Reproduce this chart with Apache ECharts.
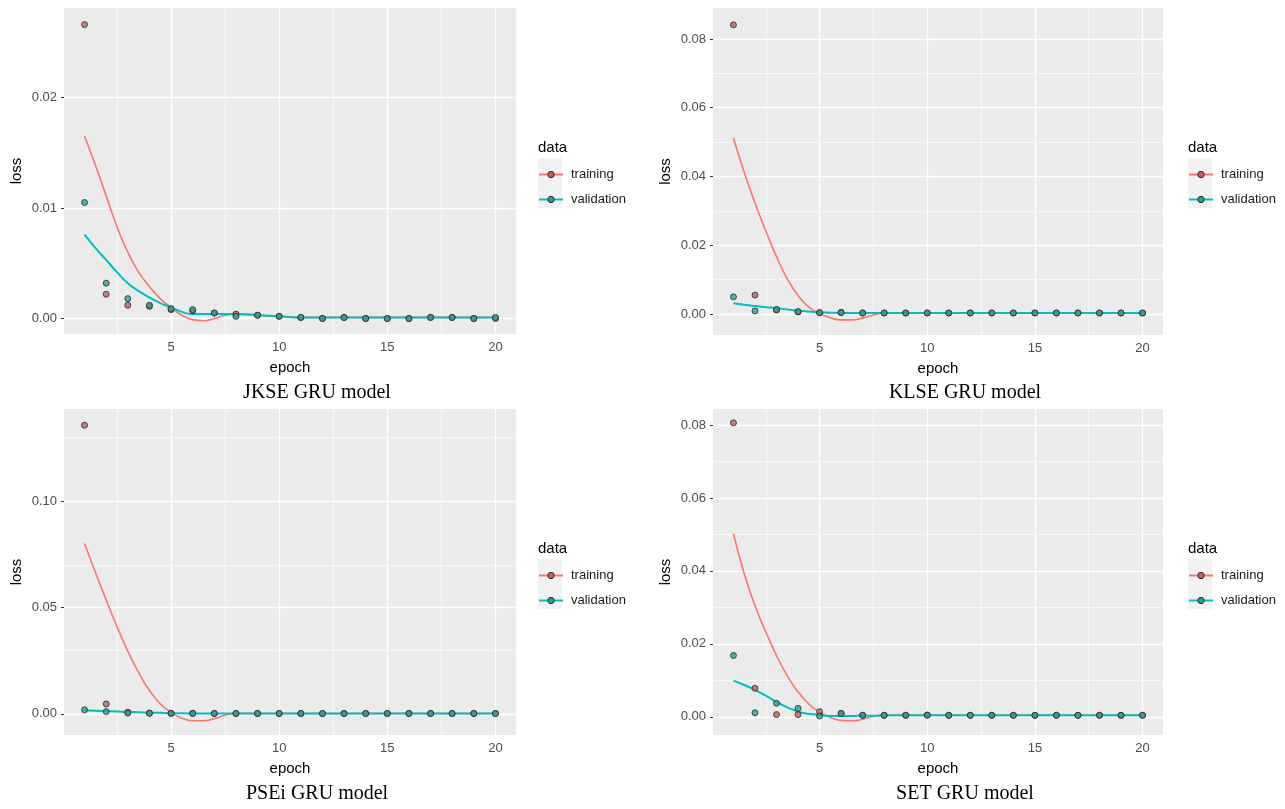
<!DOCTYPE html>
<html>
<head>
<meta charset="utf-8">
<title>GRU model loss</title>
<script src="https://cdn.jsdelivr.net/npm/echarts@6/dist/echarts.min.js"></script>
<style>
html, body { margin: 0; padding: 0; background: #fff; }
#chart { width: 1285px; height: 809px; }
</style>
</head>
<body>
<div id="chart"></div>
<script>
const epochs = [1, 2, 3, 4, 5, 6, 7, 8, 9, 10, 11, 12, 13, 14, 15, 16, 17, 18, 19, 20];
const fitEpochs = [1, 1.5, 2, 2.5, 3, 3.5, 4, 4.5, 5, 5.5, 6, 6.5, 7, 7.5, 8, 9, 10, 11, 12, 13, 14, 15, 16, 17, 18, 19, 20];

// tick labels / grid breaks
const xMajor = [5, 10, 15, 20];
const xMinor = [2.5, 7.5, 12.5, 17.5];
const jkseMajor = [0, 0.01, 0.02];
const jkseMinor = [0.005, 0.015, 0.025];
const klseMajor = [0, 0.02, 0.04, 0.06, 0.08];
const klseMinor = [0.01, 0.03, 0.05, 0.07];
const pseiMajor = [0, 0.05, 0.10];
const pseiMinor = [0.025, 0.075, 0.125];
const setMajor = [0, 0.02, 0.04, 0.06, 0.08];
const setMinor = [0.01, 0.03, 0.05, 0.07];

// JKSE
const jkseTrain = [0.0266, 0.0022, 0.0012, 0.0011, 0.0008, 0.0007, 0.0005, 0.0004, 0.0003, 0.0002, 0.0001, 0.0000, 0.0001, 0.0000, 0.0000, 0.0000, 0.0001, 0.0001, 0.0000, 0.0000];
const jkseVal = [0.0105, 0.0032, 0.0018, 0.0012, 0.0009, 0.0008, 0.0005, 0.0002, 0.0003, 0.0002, 0.0001, 0.0000, 0.0001, 0.0000, 0.0000, 0.0000, 0.0001, 0.0001, 0.0000, 0.0001];
const jkseTrainFit = [0.0165, 0.0139, 0.0111, 0.0083, 0.0060, 0.0042, 0.0029, 0.0018, 0.0010, 0.0003, -0.0001, -0.0002, 0.0000, 0.0003, 0.0004, 0.0003, 0.0002, 0.0001, 0.0001, 0.0001, 0.0001, 0.0001, 0.0001, 0.0001, 0.0001, 0.0001, 0.0001];
const jkseValFit = [0.0076, 0.0064, 0.0053, 0.0042, 0.0032, 0.0025, 0.0019, 0.0014, 0.0010, 0.0006, 0.0004, 0.0004, 0.0004, 0.0004, 0.0004, 0.0003, 0.0002, 0.0001, 0.0001, 0.0001, 0.0001, 0.0001, 0.0001, 0.0001, 0.0001, 0.0001, 0.0001];

// KLSE
const klseTrain = [0.0841, 0.0055, 0.0012, 0.0006, 0.0004, 0.0005, 0.0003, 0.0003, 0.0003, 0.0003, 0.0003, 0.0003, 0.0003, 0.0003, 0.0003, 0.0003, 0.0003, 0.0003, 0.0003, 0.0003];
const klseVal = [0.0050, 0.0009, 0.0013, 0.0007, 0.0004, 0.0004, 0.0003, 0.0003, 0.0003, 0.0003, 0.0003, 0.0003, 0.0003, 0.0003, 0.0003, 0.0003, 0.0003, 0.0003, 0.0003, 0.0003];
const klseTrainFit = [0.0512, 0.0412, 0.0323, 0.0242, 0.0167, 0.0102, 0.0054, 0.0020, 0.0002, -0.0011, -0.0017, -0.0017, -0.0012, -0.0003, 0.0003, 0.0003, 0.0003, 0.0003, 0.0003, 0.0003, 0.0003, 0.0003, 0.0003, 0.0003, 0.0003, 0.0003, 0.0003];
const klseValFit = [0.0031, 0.0027, 0.0023, 0.0020, 0.0017, 0.0013, 0.0010, 0.0007, 0.0005, 0.0004, 0.0003, 0.0003, 0.0003, 0.0003, 0.0003, 0.0003, 0.0003, 0.0003, 0.0003, 0.0003, 0.0003, 0.0003, 0.0003, 0.0003, 0.0003, 0.0003, 0.0003];

// PSEi
const pseiTrain = [0.1356, 0.0047, 0.0008, 0.0004, 0.0003, 0.0003, 0.0002, 0.0002, 0.0002, 0.0002, 0.0002, 0.0002, 0.0002, 0.0002, 0.0002, 0.0002, 0.0002, 0.0002, 0.0002, 0.0002];
const pseiVal = [0.0019, 0.0011, 0.0004, 0.0003, 0.0002, 0.0002, 0.0002, 0.0002, 0.0002, 0.0002, 0.0002, 0.0002, 0.0002, 0.0002, 0.0002, 0.0002, 0.0002, 0.0002, 0.0002, 0.0002];
const pseiTrainFit = [0.0800, 0.0665, 0.0535, 0.0410, 0.0295, 0.0195, 0.0110, 0.0048, 0.0008, -0.0020, -0.0032, -0.0032, -0.0022, -0.0006, 0.0003, 0.0002, 0.0002, 0.0002, 0.0002, 0.0002, 0.0002, 0.0002, 0.0002, 0.0002, 0.0002, 0.0002, 0.0002];
const pseiValFit = [0.0017, 0.0015, 0.0013, 0.0011, 0.0009, 0.0008, 0.0006, 0.0005, 0.0003, 0.0003, 0.0002, 0.0002, 0.0002, 0.0002, 0.0002, 0.0002, 0.0002, 0.0002, 0.0002, 0.0002, 0.0002, 0.0002, 0.0002, 0.0002, 0.0002, 0.0002, 0.0002];

// SET
const setTrain = [0.0806, 0.0078, 0.0006, 0.0006, 0.0014, 0.0009, 0.0004, 0.0004, 0.0004, 0.0005, 0.0004, 0.0004, 0.0004, 0.0004, 0.0004, 0.0004, 0.0004, 0.0004, 0.0004, 0.0004];
const setVal = [0.0168, 0.0011, 0.0037, 0.0023, 0.0002, 0.0009, 0.0004, 0.0004, 0.0004, 0.0004, 0.0004, 0.0004, 0.0004, 0.0004, 0.0004, 0.0004, 0.0004, 0.0004, 0.0004, 0.0004];
const setTrainFit = [0.0502, 0.0392, 0.0305, 0.0233, 0.0168, 0.0112, 0.0068, 0.0035, 0.0013, -0.0002, -0.0010, -0.0011, -0.0007, 0.0001, 0.0004, 0.0004, 0.0004, 0.0004, 0.0004, 0.0004, 0.0004, 0.0004, 0.0004, 0.0004, 0.0004, 0.0004, 0.0004];
const setValFit = [0.0099, 0.0087, 0.0074, 0.0058, 0.0041, 0.0026, 0.0014, 0.0008, 0.0005, 0.0002, 0.0002, 0.0002, 0.0003, 0.0003, 0.0004, 0.0004, 0.0004, 0.0004, 0.0004, 0.0004, 0.0004, 0.0004, 0.0004, 0.0004, 0.0004, 0.0004, 0.0004];

const panels = [
  { caption: 'JKSE GRU model', train: jkseTrain, val: jkseVal, trainFit: jkseTrainFit, valFit: jkseValFit,
    major: jkseMajor, minor: jkseMinor, yMin: -0.0014, yMax: 0.0281,
    left: 64, top: 8, width: 452, height: 326, legendX: 538 },
  { caption: 'KLSE GRU model', train: klseTrain, val: klseVal, trainFit: klseTrainFit, valFit: klseValFit,
    major: klseMajor, minor: klseMinor, yMin: -0.0061, yMax: 0.0890,
    left: 713, top: 8, width: 450, height: 327, legendX: 1188 },
  { caption: 'PSEi GRU model', train: pseiTrain, val: pseiVal, trainFit: pseiTrainFit, valFit: pseiValFit,
    major: pseiMajor, minor: pseiMinor, yMin: -0.0099, yMax: 0.1432,
    left: 64, top: 409, width: 452, height: 326, legendX: 538 },
  { caption: 'SET GRU model', train: setTrain, val: setVal, trainFit: setTrainFit, valFit: setValFit,
    major: setMajor, minor: setMinor, yMin: -0.0050, yMax: 0.0844,
    left: 713, top: 409, width: 450, height: 326, legendX: 1188 }
];

const RED = '#F8766D';
const TEAL = '#00BFC4';
const RED_PT = '#c0625e';
const TEAL_PT = '#2a9d9b';
const SANS = '"Liberation Sans", Arial, sans-serif';
const SERIF = '"Liberation Serif", "Times New Roman", serif';

const pairs = (xs, ys) => xs.map((x, i) => [x, ys[i]]);

const grid = [], xAxis = [], yAxis = [], series = [], legend = [], graphic = [];

panels.forEach((p, i) => {
  grid.push({ left: p.left, top: p.top, width: p.width, height: p.height,
    show: true, backgroundColor: '#EBEBEB', borderWidth: 0 });

  xAxis.push({
    type: 'value', gridIndex: i, min: 0.05, max: 20.95,
    name: 'epoch', nameLocation: 'middle', nameGap: 26,
    nameTextStyle: { color: '#000', fontSize: 15, fontFamily: SANS },
    axisLine: { show: false },
    axisTick: { show: true, length: 3, lineStyle: { color: '#333' }, customValues: xMajor },
    axisLabel: { customValues: xMajor, color: '#4D4D4D', fontSize: 13, fontFamily: SANS, margin: 7 },
    splitLine: { show: false }
  });

  yAxis.push({
    type: 'value', gridIndex: i, min: p.yMin, max: p.yMax,
    name: 'loss', nameLocation: 'middle', nameGap: 40, nameRotate: 90,
    nameTextStyle: { color: '#000', fontSize: 15, fontFamily: SANS },
    axisLine: { show: false },
    axisTick: { show: true, length: 3, lineStyle: { color: '#333' }, customValues: p.major },
    axisLabel: { customValues: p.major, color: '#4D4D4D', fontSize: 13, fontFamily: SANS, margin: 7,
      formatter: v => v.toFixed(2) },
    splitLine: { show: false }
  });

  // white panel grid, drawn under the data
  const gridLines = [].concat(
    p.major.map(v => ({ yAxis: v, lineStyle: { width: 1.3 } })),
    p.minor.map(v => ({ yAxis: v, lineStyle: { width: 0.6 } })),
    xMajor.map(v => ({ xAxis: v, lineStyle: { width: 1.3 } })),
    xMinor.map(v => ({ xAxis: v, lineStyle: { width: 0.6 } }))
  );

  series.push({
    type: 'line', name: 'training', xAxisIndex: i, yAxisIndex: i,
    data: pairs(fitEpochs, p.trainFit), smooth: 0.5, showSymbol: false, symbol: 'circle',
    lineStyle: { color: RED, width: 1.6 }, itemStyle: { color: RED }, z: 3,
    markLine: { silent: true, symbol: 'none', z: 1, label: { show: false },
      lineStyle: { color: '#fff', type: 'solid' }, data: gridLines }
  });
  series.push({
    type: 'line', name: 'validation', xAxisIndex: i, yAxisIndex: i,
    data: pairs(fitEpochs, p.valFit), smooth: 0.5, showSymbol: false, symbol: 'circle',
    lineStyle: { color: TEAL, width: 2 }, itemStyle: { color: TEAL }, z: 3
  });
  series.push({
    type: 'scatter', name: 'training', xAxisIndex: i, yAxisIndex: i,
    data: pairs(epochs, p.train), symbolSize: 6,
    itemStyle: { color: RED_PT, borderColor: '#2b2b2b', borderWidth: 1 }, z: 4
  });
  series.push({
    type: 'scatter', name: 'validation', xAxisIndex: i, yAxisIndex: i,
    data: pairs(epochs, p.val), symbolSize: 6,
    itemStyle: { color: TEAL_PT, borderColor: '#2b2b2b', borderWidth: 1 }, z: 4
  });

  const lt = p.top + 150;
  legend.push({
    orient: 'vertical', left: p.legendX, top: lt + 9, itemWidth: 24, itemHeight: 8, itemGap: 10,
    selectedMode: false, padding: 0,
    textStyle: { fontSize: 13, color: '#1a1a1a', fontFamily: SANS, lineHeight: 15, padding: [0, 0, 0, 3] },
    data: [
      { name: 'training', itemStyle: { color: RED_PT, borderColor: '#2b2b2b', borderWidth: 1 } },
      { name: 'validation', itemStyle: { color: TEAL_PT, borderColor: '#2b2b2b', borderWidth: 1 } }
    ]
  });

  graphic.push({ type: 'rect', left: p.legendX, top: lt, z: -1, silent: true,
    shape: { width: 24, height: 50 }, style: { fill: '#F2F2F2' } });
  graphic.push({ type: 'text', x: p.legendX, y: lt - 10, silent: true,
    style: { text: 'data', font: '15px ' + SANS, fill: '#000', align: 'left', verticalAlign: 'middle' } });
  graphic.push({ type: 'text', x: p.left + p.width / 2 + 27, y: p.top + 385, silent: true,
    style: { text: p.caption, font: '20px ' + SERIF, fill: '#000', align: 'center', verticalAlign: 'middle' } });
});

const chart = echarts.init(document.getElementById('chart'));
chart.setOption({
  animation: false,
  backgroundColor: '#fff',
  grid, xAxis, yAxis, series, legend, graphic
});
</script>
</body>
</html>
